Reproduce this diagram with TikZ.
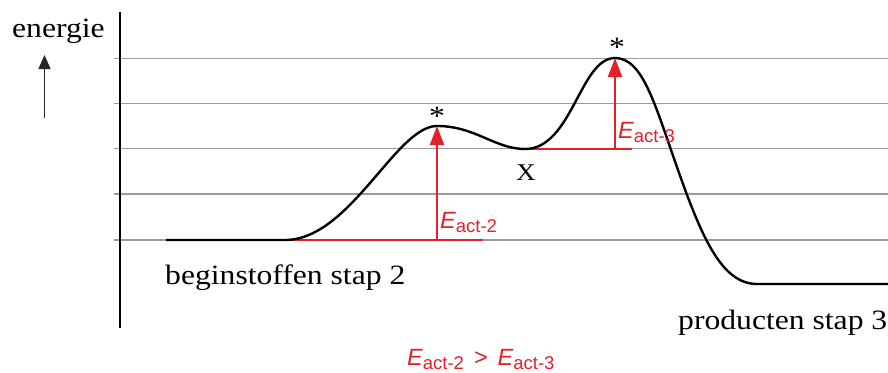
\documentclass[tikz,border=0pt]{standalone}
\usepackage{fontspec}
\setmainfont{Liberation Serif}[FakeStretch=1.13]
\setsansfont{Liberation Sans}
\usetikzlibrary{arrows.meta}
\definecolor{actred}{RGB}{228,32,40}
\definecolor{gridgray}{RGB}{155,155,155}
\newcommand\Eact[1]{{\fontsize{23.5}{28}\selectfont\sffamily\itshape E}\raisebox{-4pt}{\fontsize{18.5}{22}\selectfont\sffamily act-#1}}
\begin{document}
\begin{tikzpicture}[x=1pt,y=-1pt,
  gridline/.style={draw=gridgray,line width=1.5pt},
  axisline/.style={draw=black,line width=1.8pt},
  curveline/.style={draw=black,line width=2.4pt},
  redline/.style={draw=actred,line width=2pt},
  redarrow/.style={draw=actred,line width=2pt,-{Triangle[width=14pt,length=19pt]}},
  lbl/.style={inner sep=0pt,anchor=base west,font=\fontsize{28}{33}\selectfont},
  star/.style={inner sep=0pt,anchor=base,font=\fontsize{28}{33}\selectfont},
  redlbl/.style={inner sep=0pt,anchor=base west,text=actred}]
\useasboundingbox (0,0) rectangle (888,372);
% grid lines
\foreach \yy in {58.5,103.5,148.5,194,240}
  \draw[gridline] (114,\yy) -- (888,\yy);
% axis
\draw[axisline] (120,12) -- (120,328);
% energy label and arrow
\node[lbl] (energie) at (12,37) {energie};
\coordinate (ea) at (44.5,118);
\coordinate (eb) at (44.5,55);
\draw[draw=black!85,line width=1.4pt,-{Triangle[width=12pt,length=14pt]}] (ea) -- (eb);
% key points
\coordinate (s0) at (166,240);
\coordinate (s1) at (285,240);
\coordinate (p1) at (437,126);
\coordinate (m1) at (525,149);
\coordinate (p2) at (615,58);
\coordinate (q)  at (678,170);
\coordinate (e0) at (757,284);
\coordinate (e1) at (888,284);
% red reference lines
\coordinate (r1a) at (285,240);
\coordinate (r1b) at (483,240);
\coordinate (r1c) at (437,240);
\coordinate (r2a) at (530,148.5);
\coordinate (r2b) at (632,148.5);
\coordinate (r2c) at (615,148.5);
\draw[redline] (r1a) -- (r1b);
\draw[redline] (r2a) -- (r2b);
% energy curve
\draw[curveline,line join=round] (s0) -- (s1)
  .. controls (350,240) and (396,126) .. (p1)
  .. controls (475,126) and (495,149) .. (m1)
  .. controls (572,149) and (580,58) .. (p2)
  .. controls (643,58) and (655,105) .. (q)
  .. controls (702,238) and (722,284) .. (e0) -- (e1);
% activation arrows
\draw[redarrow] (r1c) -- (p1);
\draw[redarrow] (r2c) -- (p2);
% labels
\node[star] (st1) at (437,125) {*};
\node[star] (st2) at (617,56) {*};
\node[inner sep=0pt,anchor=base west,font=\fontsize{24}{28}\selectfont] (X) at (516,180) {X};
\node[redlbl] (ea2) at (440,228) {\Eact{2}};
\node[redlbl] (ea3) at (618,138) {\Eact{3}};
\node[lbl] (begin) at (165,284) {beginstoffen stap 2};
\node[lbl] (prod) at (678,329) {producten stap 3};
\node[redlbl] (cmp) at (407,365) {\Eact{2}\hspace{10pt}{\fontsize{23.5}{28}\selectfont\sffamily >}\hspace{10pt}\Eact{3}};
\end{tikzpicture}
\end{document}
